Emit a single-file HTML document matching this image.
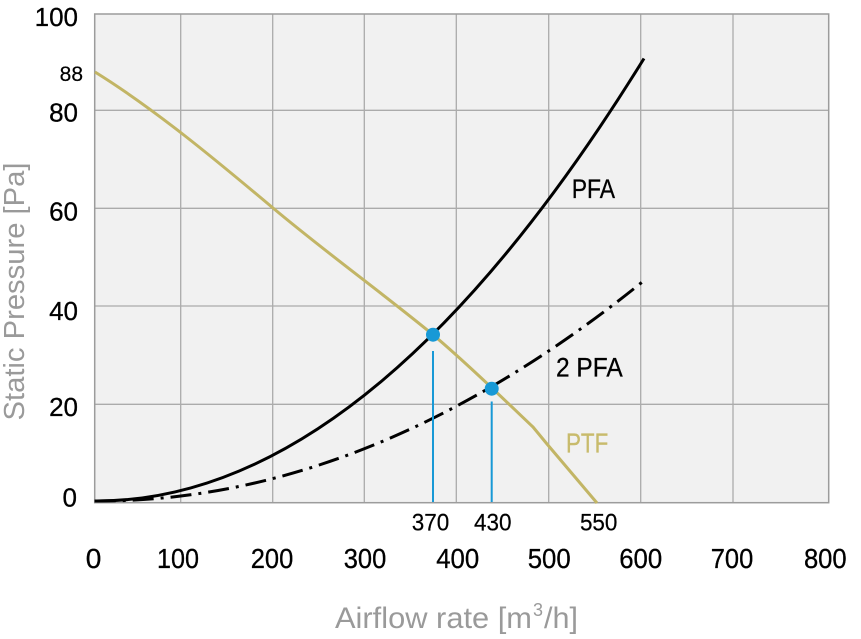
<!DOCTYPE html>
<html>
<head>
<meta charset="utf-8">
<style>
html,body{margin:0;padding:0;background:#fff;}
svg{display:block;}
text{font-family:"Liberation Sans",sans-serif;}
</style>
</head>
<body>
<svg width="861" height="639" viewBox="0 0 861 639" xmlns="http://www.w3.org/2000/svg">
  <!-- plot background -->
  <rect x="94.7" y="14" width="734" height="488.7" fill="#f1f1f1"/>
  <!-- grid -->
  <g stroke="#ababab" stroke-width="1.3" fill="none">
    <line x1="180.7" y1="14" x2="180.7" y2="502.7"/>
    <line x1="272.7" y1="14" x2="272.7" y2="502.7"/>
    <line x1="364.3" y1="14" x2="364.3" y2="502.7"/>
    <line x1="456.3" y1="14" x2="456.3" y2="502.7"/>
    <line x1="548.7" y1="14" x2="548.7" y2="502.7"/>
    <line x1="640.7" y1="14" x2="640.7" y2="502.7"/>
    <line x1="733" y1="14" x2="733" y2="502.7"/>
    <line x1="94.7" y1="110.3" x2="828.7" y2="110.3"/>
    <line x1="94.7" y1="208.3" x2="828.7" y2="208.3"/>
    <line x1="94.7" y1="306" x2="828.7" y2="306"/>
    <line x1="94.7" y1="404.3" x2="828.7" y2="404.3"/>
  </g>
  <rect x="94.7" y="14" width="734" height="488.7" fill="none" stroke="#9c9c9c" stroke-width="1.5"/>

  <!-- PTF curve -->
  <path fill="none" stroke="#c2b565" stroke-width="3" stroke-linejoin="round"
    d="M95,72 C154,108.6 214,158.4 273,208 C326,252.5 380,291.2 433,334.7 C466,362.8 500,395.6 533,427 L547,444 L597,503"/>

  <!-- PFA curve -->
  <path d="M94.7,501 Q369.35,502.7 644,58.5" fill="none" stroke="#000" stroke-width="3" stroke-linecap="butt"/>

  <!-- 2 PFA curve -->
  <path d="M94.7,501 Q370.35,502.7 646,279" fill="none" stroke="#000" stroke-width="3" stroke-dasharray="21 7 3 7"/>

  <!-- markers -->
  <g stroke="#1899d6" stroke-width="2">
    <line x1="433" y1="351" x2="433" y2="502"/>
    <line x1="491.7" y1="401.5" x2="491.7" y2="502"/>
  </g>
  <circle cx="433" cy="334.7" r="7" fill="#1899d6"/>
  <circle cx="491.7" cy="388.7" r="7" fill="#1899d6"/>

  <!-- Y tick labels -->
  <g fill="#000" stroke="#000" stroke-width="0.3" font-size="26" text-anchor="end">
    <text x="78" y="26">100</text>
    <text x="78" y="121.5">80</text>
    <text x="78" y="220.5">60</text>
    <text x="78" y="320">40</text>
    <text x="78" y="416">20</text>
    <text x="77" y="506.5">0</text>
  </g>
  <text x="83" y="81" fill="#000" stroke="#000" stroke-width="0.2" font-size="21" text-anchor="end">88</text>

  <!-- X tick labels -->
  <g fill="#000" stroke="#000" stroke-width="0.3" font-size="28" text-anchor="middle">
    <text x="93.5" y="568">0</text>
    <text x="178" y="568" textLength="42" lengthAdjust="spacingAndGlyphs">100</text>
    <text x="272" y="568" textLength="42.5" lengthAdjust="spacingAndGlyphs">200</text>
    <text x="365" y="568" textLength="42.5" lengthAdjust="spacingAndGlyphs">300</text>
    <text x="457.7" y="568" textLength="43" lengthAdjust="spacingAndGlyphs">400</text>
    <text x="549.2" y="568" textLength="43" lengthAdjust="spacingAndGlyphs">500</text>
    <text x="640.7" y="568" textLength="43" lengthAdjust="spacingAndGlyphs">600</text>
    <text x="732" y="568" textLength="42.5" lengthAdjust="spacingAndGlyphs">700</text>
    <text x="825.3" y="568" textLength="42.7" lengthAdjust="spacingAndGlyphs">800</text>
  </g>

  <!-- small x labels -->
  <g fill="#000" stroke="#000" stroke-width="0.2" font-size="24" text-anchor="middle">
    <text x="430.5" y="530.5" textLength="37.5" lengthAdjust="spacingAndGlyphs">370</text>
    <text x="492.8" y="530.5" textLength="37.5" lengthAdjust="spacingAndGlyphs">430</text>
    <text x="598.7" y="530.5" textLength="37.5" lengthAdjust="spacingAndGlyphs">550</text>
  </g>

  <!-- series labels -->
  <text x="571.7" y="198" fill="#000" stroke="#000" stroke-width="0.3" font-size="27" textLength="43.3" lengthAdjust="spacingAndGlyphs">PFA</text>
  <text x="556" y="376.7" fill="#000" stroke="#000" stroke-width="0.3" font-size="27" textLength="66.7" lengthAdjust="spacingAndGlyphs">2 PFA</text>
  <text x="566" y="452.7" fill="#c8bb6c" stroke="#c8bb6c" stroke-width="0.3" font-size="28" textLength="42.3" lengthAdjust="spacingAndGlyphs">PTF</text>

  <!-- axis titles -->
  <text transform="translate(24,291.5) rotate(-90)" fill="#9a9a9a" font-size="29" text-anchor="middle" textLength="258" lengthAdjust="spacingAndGlyphs">Static Pressure [Pa]</text>

  <g fill="#9a9a9a">
    <text x="335" y="628" font-size="30" textLength="197" lengthAdjust="spacingAndGlyphs">Airflow rate [m</text>
    <text x="533" y="616" font-size="18">3</text>
    <text x="544" y="628" font-size="30" textLength="34" lengthAdjust="spacingAndGlyphs">/h]</text>
  </g>
</svg>
</body>
</html>
